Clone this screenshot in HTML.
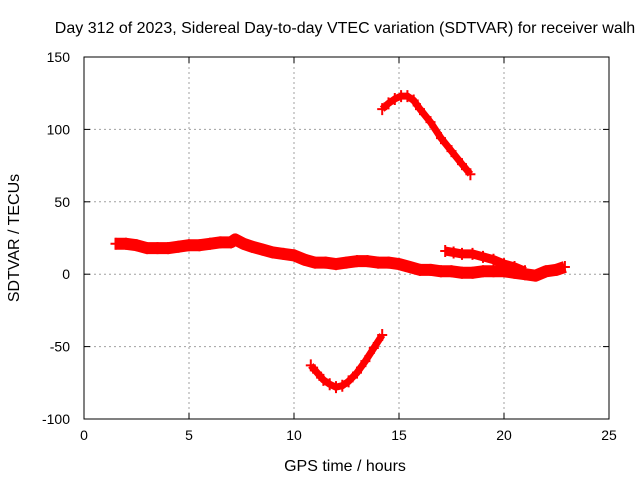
<!DOCTYPE html>
<html><head><meta charset="utf-8"><style>
body{margin:0;background:#fff}
svg{display:block;font-family:"Liberation Sans",sans-serif;font-size:14px}
</style></head><body>
<svg id="c" width="640" height="480"></svg>
<script>
const xTicks=[0,5,10,15,20,25];
const yTicks=[-100,-50,0,50,100,150];
const mainX=[1.5,2,2.5,3,3.5,4,4.5,5,5.5,6,6.5,7,7.2,7.6,8,8.5,9,9.5,10,10.5,11,11.5,12,12.5,13,13.5,14,14.5,15,15.5,16,16.5,17,17.5,18,18.5,19,19.5,20,20.5,21,21.5,22,22.5,22.9];
const mainY=[21,21,20,18,18,18,19,20,20,21,22,22,24,21,19,17,15,14,13,10,8,8,7,8,9,9,8,8,7,5,3,3,2,2,1,1,2,2,2,1,0,-1,2,3,5];
const bandX=[17.2,17.6,18,18.5,19,19.5,20,20.5,21];
const bandY=[16,15,14,14,12,10,7,5,2];
const upX=[14.2,14.5,14.8,15.1,15.4,15.7,16,16.5,17,17.5,18,18.4];
const upY=[114,118,121,123,123,120,114,105,94,85,76,69];
const lowX=[10.8,11.1,11.4,11.7,12,12.3,12.6,13,13.4,13.8,14.2];
const lowY=[-63,-68,-73,-76,-78,-77,-74,-68,-60,-51,-42];
const L=84,R=609,T=57,B=419;
const sx=v=>L+(v-0)/25*(R-L);
const sy=v=>B-(v+100)/250*(B-T);
const svg=document.getElementById('c');
const NS='http://www.w3.org/2000/svg';
function mk(t,a,parent){const e=document.createElementNS(NS,t);for(const k in a)e.setAttribute(k,a[k]);(parent||svg).appendChild(e);return e;}
const g=mk('g',{});


xTicks.forEach(v=>{if(v>0&&v<25)mk('line',{x1:sx(v),x2:sx(v),y1:T,y2:B,stroke:'#a0a0a0','stroke-dasharray':'2,3'},g);});
yTicks.forEach(v=>{if(v>-100&&v<150)mk('line',{x1:L,x2:R,y1:sy(v),y2:sy(v),stroke:'#a0a0a0','stroke-dasharray':'2,3'},g);});
const frame=mk('rect',{x:L,y:T,width:R-L,height:B-T,fill:'none',stroke:'#000'});


xTicks.forEach(v=>{mk('line',{x1:sx(v),x2:sx(v),y1:B,y2:B-6,stroke:'#000'});mk('line',{x1:sx(v),x2:sx(v),y1:T,y2:T+6,stroke:'#000'});
const t=mk('text',{x:sx(v),y:B+21,'text-anchor':'middle'});t.textContent=v;

});
yTicks.forEach(v=>{mk('line',{x1:L,x2:L+6,y1:sy(v),y2:sy(v),stroke:'#000'});mk('line',{x1:R,x2:R-6,y1:sy(v),y2:sy(v),stroke:'#000'});
const t=mk('text',{x:L-14,y:sy(v)+5,'text-anchor':'end'});t.textContent=v;

});
function series(xs,ys,w,name){const p=xs.map((x,i)=>sx(x)+','+sy(ys[i])).join(' ');
const pl=mk('polyline',{points:p,fill:'none',stroke:'#f00','stroke-width':w,'stroke-linejoin':'round'});


xs.forEach((x,i)=>{mk('path',{d:`M${sx(x)-5},${sy(ys[i])}h10M${sx(x)},${sy(ys[i])-6}v12`,stroke:'#f00','stroke-width':2});});}
series(mainX,mainY,12,'series-main');
series(bandX,bandY,9,'series-band');
series(upX,upY,7,'series-upper-arc');
series(lowX,lowY,7,'series-lower-arc');
const title=mk('text',{x:345,y:33,'text-anchor':'middle','font-size':'16px'});title.textContent='Day 312 of 2023, Sidereal Day-to-day VTEC variation (SDTVAR) for receiver walh';


const xl=mk('text',{x:345,y:471,'text-anchor':'middle','font-size':'16px'});xl.textContent='GPS time / hours';


const yl=mk('text',{x:19,y:238,'text-anchor':'middle','font-size':'16px',transform:'rotate(-90 19 238)'});yl.textContent='SDTVAR / TECUs';


</script>
</body></html>
